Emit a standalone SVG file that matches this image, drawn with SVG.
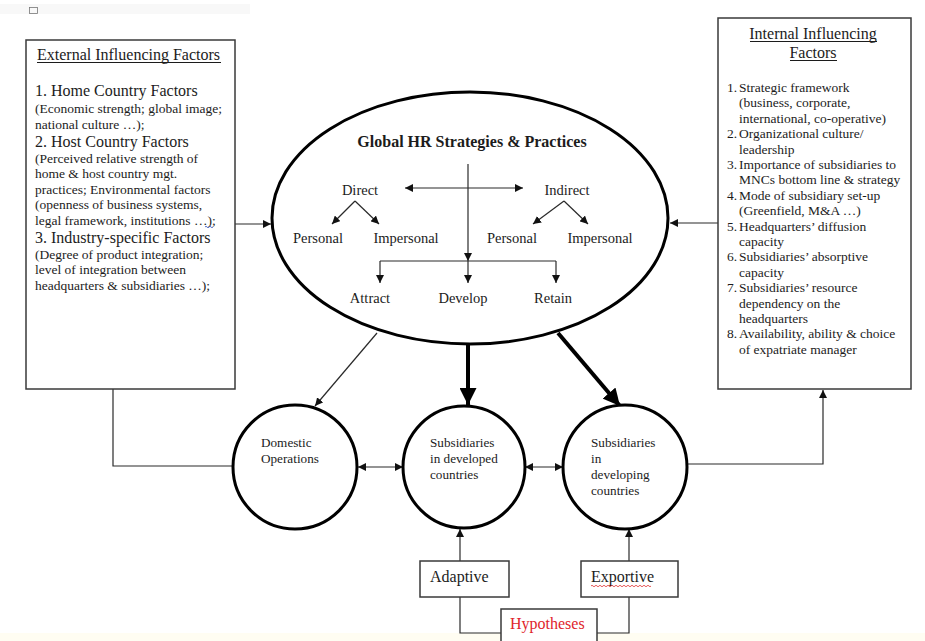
<svg xmlns="http://www.w3.org/2000/svg" width="925" height="641" viewBox="0 0 925 641">
<defs>
<style>
text{font-family:"Liberation Serif","Times New Roman",serif;fill:#1c1c1c}
.h{font-size:16px}
.s{font-size:13.5px}
.m{font-size:14.5px}
.c{font-size:13.2px}
.box{fill:#fff;stroke:#3a3a3a;stroke-width:1.5}
.circ{fill:#fff;stroke:#000;stroke-width:3}
.ln{fill:none;stroke:#2a2a2a;stroke-width:1.2}
.thick{fill:none;stroke:#000;stroke-width:4}
</style>
<marker id="a" viewBox="0 0 10 10" refX="10" refY="5" markerWidth="8" markerHeight="8" markerUnits="userSpaceOnUse" orient="auto-start-reverse">
<path d="M0,0 L10,5 L0,10 z" fill="#111"/>
</marker>
<marker id="at" viewBox="0 0 10 10" refX="10" refY="5" markerWidth="17" markerHeight="17" markerUnits="userSpaceOnUse" orient="auto">
<path d="M0,0 L10,5 L0,10 z" fill="#000"/>
</marker>
</defs>
<rect x="0" y="0" width="925" height="641" fill="#fff"/>
<rect x="0" y="4" width="250" height="10" fill="#f8f8f8"/>
<rect x="29.5" y="7.5" width="8" height="6" fill="none" stroke="#777" stroke-width="0.8"/>
<rect x="0" y="633" width="925" height="8" fill="#fffdf2"/>

<g id="connectors">
<path class="ln" d="M235,224 H271" marker-end="url(#a)"/>
<path class="ln" d="M718,223 H670" marker-end="url(#a)"/>
<path class="ln" d="M405,188 H523" marker-start="url(#a)" marker-end="url(#a)"/>
<path class="ln" d="M355,201 L332,224" marker-end="url(#a)"/>
<path class="ln" d="M355,201 L379,224" marker-end="url(#a)"/>
<path class="ln" d="M564,201 L533,224" marker-end="url(#a)"/>
<path class="ln" d="M564,201 L588,224" marker-end="url(#a)"/>
<polyline class="ln" points="468,164 468,261 468,283" marker-mid="url(#a)" marker-end="url(#a)"/>
<path class="ln" d="M380,261 H556"/>
<path class="ln" d="M380,261 V283" marker-end="url(#a)"/>
<path class="ln" d="M556,261 V283" marker-end="url(#a)"/>
<path class="ln" d="M377,333 L315,406" marker-end="url(#a)"/>
<path class="thick" d="M468,345 V405" marker-end="url(#at)"/>
<path class="thick" d="M558,333 L620,406" marker-end="url(#at)"/>
<path class="ln" d="M233,466 H113 V389"/>
<path class="ln" d="M358,467 H403" marker-start="url(#a)" marker-end="url(#a)"/>
<path class="ln" d="M525,467 H563" marker-start="url(#a)" marker-end="url(#a)"/>
<path class="ln" d="M687,464 H823 V390" marker-end="url(#a)"/>
<path class="ln" d="M460,561 V529" marker-end="url(#a)"/>
<path class="ln" d="M629,561 V529" marker-end="url(#a)"/>
<path class="ln" d="M460,597 V633 H501"/>
<path class="ln" d="M629,597 V633 H597"/>
</g>

<g id="external-factors">
<rect class="box" x="26" y="40" width="209" height="349"/>
<text class="h" x="37" y="60">External Influencing Factors</text>
<line x1="37" y1="62.5" x2="221" y2="62.5" stroke="#1c1c1c" stroke-width="1"/>
<text class="h" x="35" y="96">1. Home Country Factors</text>
<text class="s" x="35" y="113">(Economic strength; global image;</text>
<text class="s" x="35" y="128.5">national culture …);</text>
<text class="h" x="35" y="147">2. Host Country Factors</text>
<text class="s" x="35" y="162.5">(Perceived relative strength of</text>
<text class="s" x="35" y="178">home &amp; host country mgt.</text>
<text class="s" x="35" y="193.5">practices; Environmental factors</text>
<text class="s" x="35" y="209">(openness of business systems,</text>
<text class="s" x="35" y="224.5">legal framework, institutions …);</text>
<path d="M205,227 q1,-1.5 2,0 t2,0 t2,0 t2,0" fill="none" stroke="#3050c0" stroke-width="0.8"/>
<text class="h" x="35" y="243">3. Industry-specific Factors</text>
<text class="s" x="35" y="258.5">(Degree of product integration;</text>
<text class="s" x="35" y="274">level of integration between</text>
<text class="s" x="35" y="289.5">headquarters &amp; subsidiaries …);</text>
</g>

<g id="internal-factors">
<rect class="box" x="718" y="18" width="193" height="371"/>
<text class="h" x="813" y="39" text-anchor="middle">Internal Influencing</text>
<line x1="750" y1="41.5" x2="877" y2="41.5" stroke="#1c1c1c" stroke-width="1"/>
<text class="h" x="813" y="58" text-anchor="middle">Factors</text>
<line x1="790" y1="60.5" x2="837" y2="60.5" stroke="#1c1c1c" stroke-width="1"/>
<g class="s">
<text class="s" x="727" y="92">1.</text><text class="s" x="739" y="92">Strategic framework</text>
<text class="s" x="739" y="107.4">(business, corporate,</text>
<text class="s" x="739" y="122.8">international, co-operative)</text>
<text class="s" x="727" y="138.2">2.</text><text class="s" x="739" y="138.2">Organizational culture/</text>
<text class="s" x="739" y="153.6">leadership</text>
<text class="s" x="727" y="169">3.</text><text class="s" x="739" y="169">Importance of subsidiaries to</text>
<text class="s" x="739" y="184.4">MNCs bottom line &amp; strategy</text>
<text class="s" x="727" y="199.8">4.</text><text class="s" x="739" y="199.8">Mode of subsidiary set-up</text>
<text class="s" x="739" y="215.2">(Greenfield, M&amp;A …)</text>
<text class="s" x="727" y="230.6">5.</text><text class="s" x="739" y="230.6">Headquarters’ diffusion</text>
<text class="s" x="739" y="246">capacity</text>
<text class="s" x="727" y="261.4">6.</text><text class="s" x="739" y="261.4">Subsidiaries’ absorptive</text>
<text class="s" x="739" y="276.8">capacity</text>
<text class="s" x="727" y="292.2">7.</text><text class="s" x="739" y="292.2">Subsidiaries’ resource</text>
<text class="s" x="739" y="307.6">dependency on the</text>
<text class="s" x="739" y="323">headquarters</text>
<text class="s" x="727" y="338.4">8.</text><text class="s" x="739" y="338.4">Availability, ability &amp; choice</text>
<text class="s" x="739" y="353.8">of expatriate manager</text>
</g>
</g>

<g id="global-hr">
<ellipse cx="470" cy="218" rx="198" ry="126" fill="none" stroke="#000" stroke-width="3"/>
<text class="h" x="472" y="147" text-anchor="middle" font-weight="bold">Global HR Strategies &amp; Practices</text>
<text class="m" x="360" y="195" text-anchor="middle">Direct</text>
<text class="m" x="567" y="195" text-anchor="middle">Indirect</text>
<text class="m" x="318" y="243" text-anchor="middle">Personal</text>
<text class="m" x="406" y="243" text-anchor="middle">Impersonal</text>
<text class="m" x="512" y="243" text-anchor="middle">Personal</text>
<text class="m" x="600" y="243" text-anchor="middle">Impersonal</text>
<text class="m" x="370" y="303" text-anchor="middle">Attract</text>
<text class="m" x="463" y="303" text-anchor="middle">Develop</text>
<text class="m" x="553" y="303" text-anchor="middle">Retain</text>
</g>

<g id="domestic">
<circle class="circ" cx="295" cy="467" r="62"/>
<text class="c" x="261" y="447">Domestic</text>
<text class="c" x="261" y="463">Operations</text>
</g>

<g id="developed">
<circle class="circ" cx="464" cy="467" r="61"/>
<text class="c" x="430" y="447">Subsidiaries</text>
<text class="c" x="430" y="463">in developed</text>
<text class="c" x="430" y="479">countries</text>
</g>

<g id="developing">
<circle class="circ" cx="625" cy="467" r="62"/>
<text class="c" x="591" y="447">Subsidiaries</text>
<text class="c" x="591" y="463">in</text>
<text class="c" x="591" y="479">developing</text>
<text class="c" x="591" y="495">countries</text>
</g>

<g id="adaptive">
<rect class="box" x="420" y="561" width="89" height="36" stroke-width="1.2"/>
<text class="h" x="430" y="582">Adaptive</text>
</g>

<g id="exportive">
<rect class="box" x="581" y="561" width="97" height="36" stroke-width="1.2"/>
<text class="h" x="591" y="582">Exportive</text>
<path d="M591,586 q1,-1.5 2,0 t2,0 t2,0 t2,0 t2,0 t2,0 t2,0 t2,0 t2,0 t2,0 t2,0 t2,0 t2,0 t2,0 t2,0 t2,0 t2,0 t2,0 t2,0 t2,0 t2,0 t2,0 t2,0 t2,0 t2,0 t2,0 t2,0 t2,0 t2,0 t2,0" fill="none" stroke="#e03030" stroke-width="0.8"/>
</g>

<g id="hypotheses">
<rect class="box" x="501" y="609" width="96" height="40" stroke-width="1.2"/>
<text class="h" x="510" y="629" style="fill:#e0242b">Hypotheses</text>
</g>
</svg>
